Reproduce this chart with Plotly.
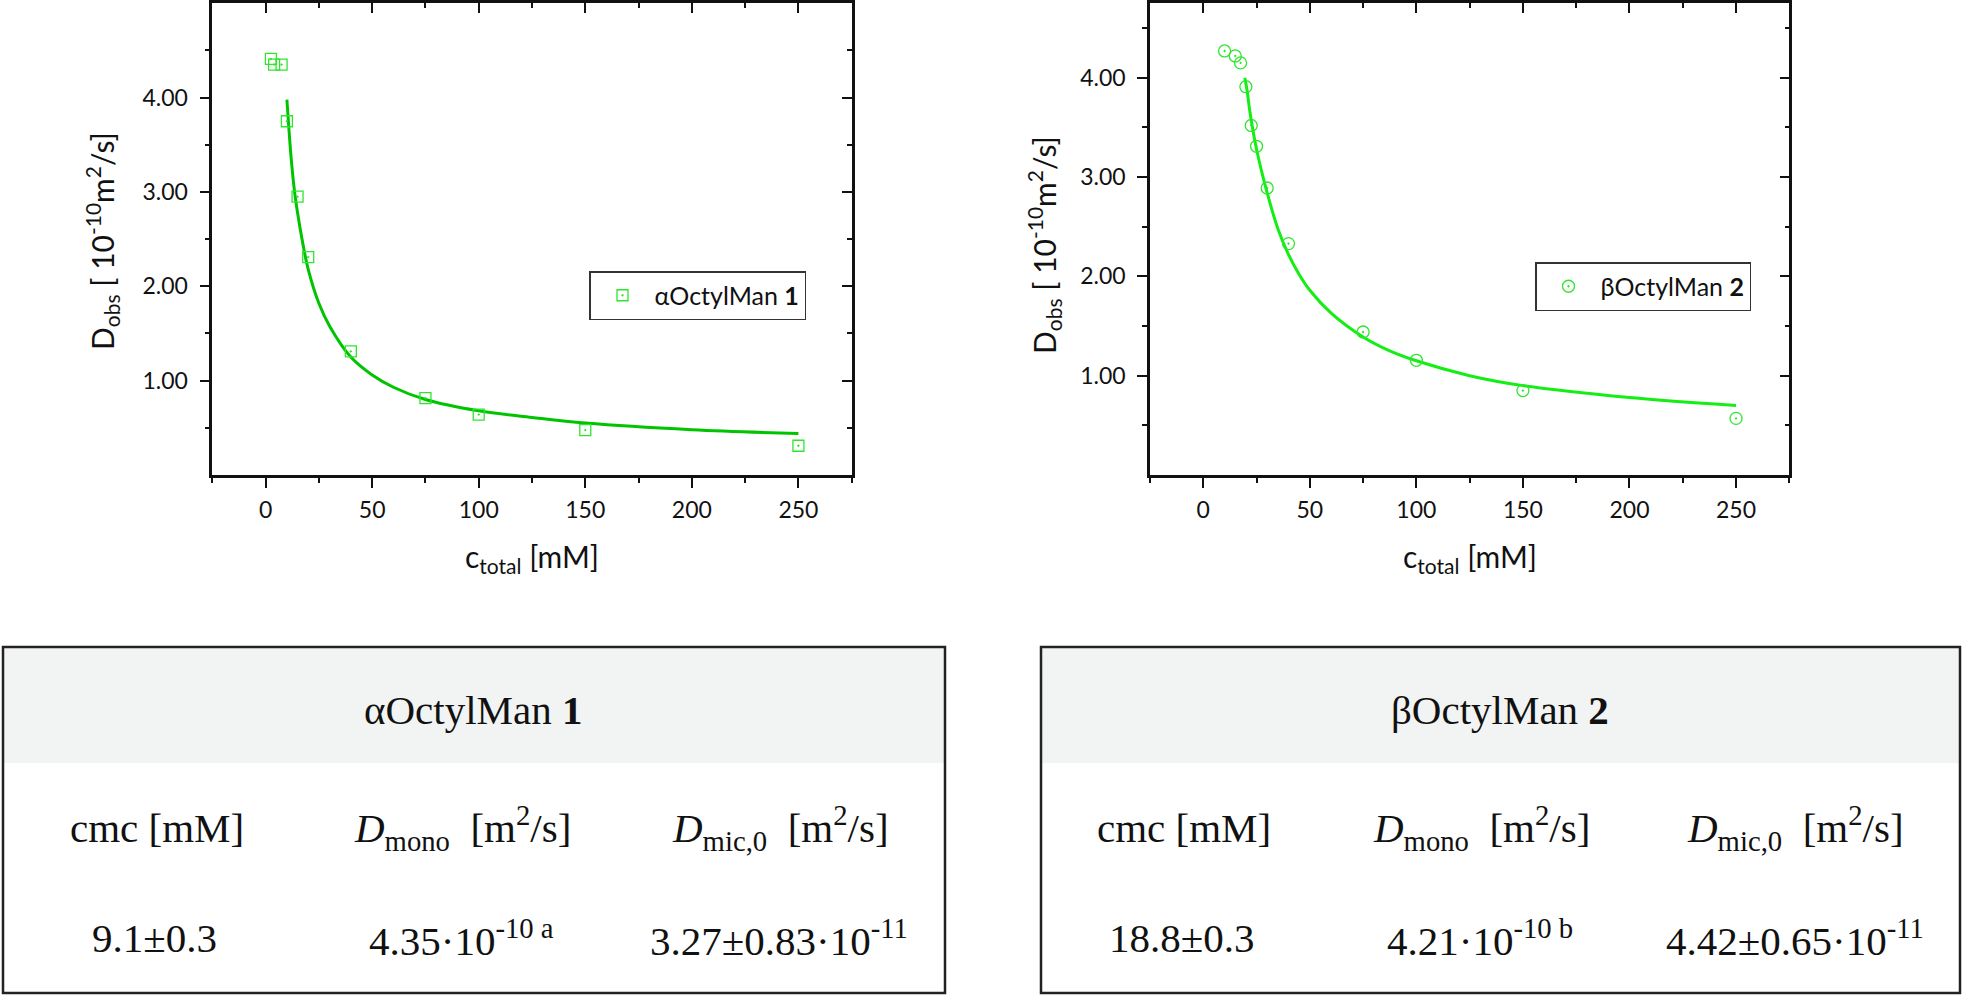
import plotly.graph_objects as go

W, H = 1965, 997

# --- data ---
alpha_c = [2.5, 4, 7.5, 10, 15, 20, 40, 75, 100, 150, 250]
alpha_d = [4.41, 4.35, 4.35, 3.75, 2.95, 2.31, 1.31, 0.815, 0.64, 0.476, 0.31]
alpha_fit_c = [10, 11, 12, 13.5, 15, 17.5, 20, 25, 30, 40, 50, 60, 75, 100, 125, 150, 200, 250]
alpha_fit_d = [3.98, 3.65, 3.36, 3.02, 2.78, 2.45, 2.18, 1.82, 1.58, 1.25, 1.06, 0.93, 0.80, 0.68, 0.61, 0.55, 0.48, 0.44]

beta_c = [10, 15, 17.5, 20, 22.5, 25, 30, 40, 75, 100, 150, 250]
beta_d = [4.27, 4.22, 4.15, 3.91, 3.52, 3.31, 2.89, 2.33, 1.44, 1.155, 0.85, 0.57]
beta_fit_c = [19.5, 20.5, 22, 25, 30, 35, 40, 45, 50, 60, 75, 87.5, 100, 125, 150, 200, 250]
beta_fit_d = [4.00, 3.88, 3.64, 3.28, 2.84, 2.48, 2.22, 2.02, 1.86, 1.63, 1.39, 1.25, 1.15, 1.00, 0.90, 0.78, 0.70]

x_major = [0, 50, 100, 150, 200, 250]
x_minor = [-25, 25, 75, 125, 175, 225, 275]
y_major = [1, 2, 3, 4]
y_labels = ['1.00', '2.00', '3.00', '4.00']
y_minor = [0.5, 1.5, 2.5, 3.5, 4.5]

table_header = ['αOctylMan <b>1</b>', 'βOctylMan <b>2</b>']
table_cols = ['cmc [mM]', '<i>D</i><sub>mono</sub>  [m<sup>2</sup>/s]',
              '<i>D</i><sub>mic,0</sub>  [m<sup>2</sup>/s]']
table_vals = [
    ['9.1±0.3', '4.35·10<sup>-10 a</sup>', '3.27±0.83·10<sup>-11</sup>'],
    ['18.8±0.3', '4.21·10<sup>-10 b</sup>', '4.42±0.65·10<sup>-11</sup>'],
]

SANS = 'Lato'
SERIF = 'Liberation Serif'


def px(x):
    return x / W


def py(y):
    return 1 - y / H


fig = go.Figure()

fig.add_trace(go.Scatter(
    x=alpha_fit_c, y=alpha_fit_d, mode='lines', line_shape='spline',
    line=dict(color='#00c400', width=3), showlegend=False,
    xaxis='x', yaxis='y',
))
fig.add_trace(go.Scatter(
    x=alpha_c, y=alpha_d, mode='markers', name='αOctylMan <b>1</b>',
    marker=dict(symbol='square-open-dot', size=11, color='#2ee62e', line=dict(width=1.3)),
    xaxis='x', yaxis='y', legend='legend',
))
fig.add_trace(go.Scatter(
    x=beta_fit_c, y=beta_fit_d, mode='lines', line_shape='spline',
    line=dict(color='#14ee14', width=3), showlegend=False,
    xaxis='x2', yaxis='y2',
))
fig.add_trace(go.Scatter(
    x=beta_c, y=beta_d, mode='markers', name='βOctylMan <b>2</b>',
    marker=dict(symbol='circle-open-dot', size=12, color='#2ee62e', line=dict(width=1.3)),
    xaxis='x2', yaxis='y2', legend='legend2',
))
# empty traces so the mirrored (top / right) axes get drawn
for xa, ya in [('x3', 'y3'), ('x4', 'y4')]:
    fig.add_trace(go.Scatter(x=[], y=[], xaxis=xa, yaxis=ya, showlegend=False, hoverinfo='skip'))

tickfont = dict(family=SANS, size=23, color='#111')
line_style = dict(showline=True, linecolor='#111', linewidth=2.5, showgrid=False,
                  zeroline=False, tickwidth=2, ticklen=10, tickcolor='#111')


def xaxis_cfg(dom, side, ticks, labels):
    return dict(domain=dom, range=[-25, 275], tickmode='array', tickvals=x_major,
                ticks=ticks, side=side, showticklabels=labels, tickfont=tickfont,
                ticklabelstandoff=3,
                minor=dict(tickvals=x_minor, ticks=ticks, ticklen=5, tickwidth=2, tickcolor='#111'),
                **line_style)


def yaxis_cfg(rng, side, ticks, labels):
    return dict(domain=[py(475), py(3.3)], range=rng, tickmode='array', tickvals=y_major,
                ticktext=y_labels, ticks=ticks, side=side, showticklabels=labels,
                tickfont=tickfont, ticklabelstandoff=7,
                minor=dict(tickvals=y_minor, ticks=ticks, ticklen=5, tickwidth=2, tickcolor='#111'),
                **line_style)


dom1 = [px(212.3), px(851.7)]
dom2 = [px(1150), px(1789.3)]

legend_style = dict(xanchor='left', yanchor='top', bordercolor='#333', borderwidth=1.5,
                    bgcolor='white', font=dict(family=SANS, size=25, color='#111'),
                    itemsizing='trace', itemwidth=54)

fig.update_layout(
    width=W, height=H, margin=dict(l=0, r=0, t=0, b=0),
    paper_bgcolor='white', plot_bgcolor='rgba(0,0,0,0)',
    xaxis=dict(anchor='y', **xaxis_cfg(dom1, 'bottom', 'outside', True)),
    yaxis=dict(anchor='x', **yaxis_cfg([0, 5], 'left', 'outside', True)),
    xaxis3=dict(anchor='y3', overlaying='x', **xaxis_cfg(dom1, 'top', 'inside', False)),
    yaxis3=dict(anchor='x3', overlaying='y', **yaxis_cfg([0, 5], 'right', 'inside', False)),
    xaxis2=dict(anchor='y2', **xaxis_cfg(dom2, 'bottom', 'outside', True)),
    yaxis2=dict(anchor='x2', **yaxis_cfg([0, 4.75], 'left', 'outside', True)),
    xaxis4=dict(anchor='y4', overlaying='x2', **xaxis_cfg(dom2, 'top', 'inside', False)),
    yaxis4=dict(anchor='x4', overlaying='y2', **yaxis_cfg([0, 4.75], 'right', 'inside', False)),
    legend=dict(x=px(589), y=py(271), **legend_style),
    legend2=dict(x=px(1535), y=py(262), **legend_style),
)

# axis titles
ytitle = 'D<sub>obs</sub> [ 10<sup>-10</sup>m<sup>2</sup>/s]'
xtitle = 'c<sub>total</sub> [mM]'
for cx, cy in [(102, 241), (1044, 245)]:
    fig.add_annotation(x=px(cx), y=py(cy), xref='paper', yref='paper', text=ytitle,
                       textangle=-90, showarrow=False, xanchor='center', yanchor='middle',
                       font=dict(family=SANS, size=30, color='#111'))
for cx in [532, 1470]:
    fig.add_annotation(x=px(cx), y=py(558), xref='paper', yref='paper', text=xtitle,
                       showarrow=False, xanchor='center', yanchor='middle',
                       font=dict(family=SANS, size=30, color='#111'))

# tables
tables = [
    dict(x0=3, x1=945, head_x=473, cols_x=[157, 462, 780], vals_x=[154, 461, 779]),
    dict(x0=1041, x1=1960, head_x=1500, cols_x=[1184, 1481, 1795], vals_x=[1182, 1480, 1795]),
]
tfont = dict(family=SERIF, size=41, color='#111')


def cell(x, y, text):
    fig.add_annotation(x=px(x), y=py(y), xref='paper', yref='paper', text=text,
                       showarrow=False, xanchor='center', yanchor='middle', font=tfont)


for i, t in enumerate(tables):
    fig.add_shape(type='rect', xref='paper', yref='paper', x0=px(t['x0']), x1=px(t['x1']),
                  y0=py(763), y1=py(647), fillcolor='#f2f4f4', line=dict(width=0), layer='below')
    fig.add_shape(type='rect', xref='paper', yref='paper', x0=px(t['x0']), x1=px(t['x1']),
                  y0=py(993), y1=py(647), line=dict(color='#222', width=2.5))
    cell(t['head_x'], 710, table_header[i])
    for cx, label in zip(t['cols_x'], table_cols):
        cell(cx, 828, label)
    for cx, val in zip(t['vals_x'], table_vals[i]):
        cell(cx, 938, val)

fig.write_html("out.html", config={'displayModeBar': False},
               post_script="document.body.style.margin='0';")
